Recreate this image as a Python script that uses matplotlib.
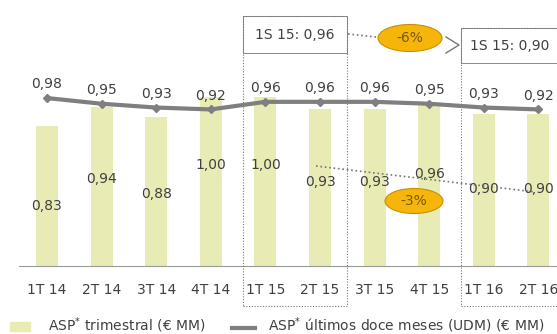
import matplotlib.pyplot as plt
from matplotlib.patches import Rectangle, Ellipse
from matplotlib.lines import Line2D

# datos
trimestres = ['1T 14', '2T 14', '3T 14', '4T 14', '1T 15', '2T 15', '3T 15', '4T 15', '1T 16', '2T 16']
asp_trimestral = [0.83, 0.94, 0.88, 1.00, 1.00, 0.93, 0.93, 0.96, 0.90, 0.90]
asp_udm = [0.98, 0.95, 0.93, 0.92, 0.96, 0.96, 0.96, 0.95, 0.93, 0.92]

plt.rcParams['font.family'] = ['DejaVu Sans']
bar_col = '#e9ebb4'
line_col = '#7f7f7f'
txt_col = '#404040'

fig = plt.figure(figsize=(5.57, 3.34), dpi=100)
ax = fig.add_axes([0, 1 - 266 / 334, 1, 266 / 334])
x = list(range(len(trimestres)))

# pixel -> datos del eje de barras
def px(xp, yp):
    return ((xp - 47) / 54.6, (266 - yp) / 169)

ax.bar(x, asp_trimestral, width=0.4, color=bar_col, zorder=1)
ax.set_xlim(px(0, 0)[0], px(557, 0)[0])
ax.set_ylim(0, 266 / 169)
for i, v in enumerate(asp_trimestral):
    ax.text(i, 1.44 * v - 0.84, f'{v:.2f}'.replace('.', ','), ha='center', va='center',
            fontsize=10, color=txt_col, zorder=5)

ax2 = ax.twinx()
ax2.set_ylim(0.096, 1.496)
ax2.plot(x, asp_udm, color=line_col, lw=3, marker='D', ms=4, zorder=3)
for i, v in enumerate(asp_udm):
    ax2.text(i, v + 0.072, f'{v:.2f}'.replace('.', ','), ha='center', va='center',
             fontsize=10, color=txt_col)

for a in (ax, ax2):
    for s in ('top', 'right', 'left'):
        a.spines[s].set_visible(False)
    a.set_yticks([])
ax2.spines['bottom'].set_visible(False)
ax.spines['bottom'].set_color('#999999')
ax.spines['bottom'].set_linewidth(0.8)
ax.spines['bottom'].set_bounds(px(19, 0)[0], px(557, 0)[0])
ax.set_xticks(x)
ax.set_xticklabels(trimestres, fontsize=10, color=txt_col)
ax.tick_params(axis='x', length=0, pad=12)

# recuadros de semestre
def caja(x0, y0, x1, y1, ls, lw=0.8):
    a0 = px(x0, y1)
    a1 = px(x1, y0)
    r = Rectangle(a0, a1[0] - a0[0], a1[1] - a0[1], fill=False, ls=ls, lw=lw,
                  edgecolor='#777777', clip_on=False, zorder=6)
    ax.add_patch(r)

caja(243, 16, 347, 306, (0, (1, 1.5)))
caja(243, 16, 347, 53, '-', 0.6)
caja(461, 28, 560, 306, (0, (1, 1.5)))
caja(461, 28, 560, 63, '-', 0.6)
ax.text(*px(295, 35), '1S 15: 0,96', ha='center', va='center', fontsize=10, color=txt_col)
ax.text(*px(510, 46), '1S 15: 0,90', ha='center', va='center', fontsize=10, color=txt_col)

# flecha -6%
ax.plot(*zip(px(348, 34), px(440, 44)), ls=':', color='#777777', lw=1.2, clip_on=False, zorder=6)
ax.plot(*zip(px(446, 37), px(459, 45), px(446, 53)), color='#777777', lw=1, clip_on=False, zorder=6)
c = px(410, 38)
ax.add_patch(Ellipse(c, 64 / 54.6, 27 / 169, facecolor='#f5b50a', edgecolor='#c89000',
                     lw=0.8, clip_on=False, zorder=7))
ax.text(*c, '-6%', ha='center', va='center', fontsize=10, color='#7a5a00', zorder=8)

# -3%
ax.plot(*zip(px(316, 166), px(535, 192)), ls=':', color='#777777', lw=1.2, clip_on=False, zorder=6)
c = px(414, 201)
ax.add_patch(Ellipse(c, 58 / 54.6, 25 / 169, facecolor='#f5b50a', edgecolor='#c89000',
                     lw=0.8, clip_on=False, zorder=7))
ax.text(*c, '-3%', ha='center', va='center', fontsize=10, color='#7a5a00', zorder=8)

# leyenda
fig.add_artist(Rectangle((10 / 557, 1 - 331 / 334), 20 / 557, 9 / 334,
                         transform=fig.transFigure, color=bar_col))
fig.text(48 / 557, 1 - 325 / 334, 'ASP$^{*}$ trimestral (€ MM)', va='center',
         fontsize=10, color=txt_col)
fig.add_artist(Line2D([232 / 557, 255 / 557], [1 - 328 / 334] * 2,
                      transform=fig.transFigure, color=line_col, lw=3))
fig.text(268 / 557, 1 - 325 / 334, 'ASP$^{*}$ últimos doce meses (UDM) (€ MM)', va='center',
         fontsize=10, color=txt_col)

fig.savefig('out.png', dpi=100)
